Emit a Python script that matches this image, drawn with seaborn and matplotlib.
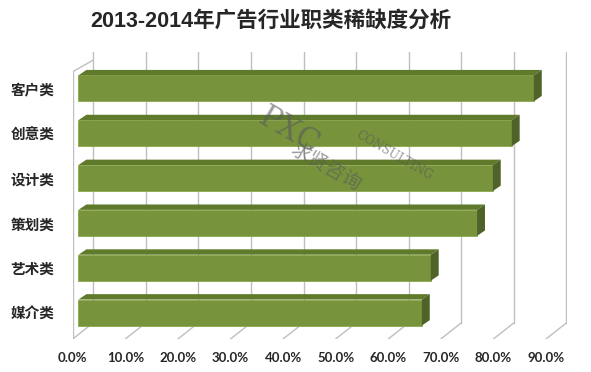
import matplotlib
matplotlib.use("Agg")
import matplotlib.pyplot as plt
import seaborn as sns
import pandas as pd
from matplotlib.patches import Polygon

categories = ["客户类", "创意类", "设计类", "策划类", "艺术类", "媒介类"]
values = [86.6, 82.4, 78.8, 75.8, 67.0, 65.3]
ticks = [0, 10, 20, 30, 40, 50, 60, 70, 80, 90]
tick_labels = ["%.1f%%" % t for t in ticks]
title = "2013-2014年广告行业职类稀缺度分析"

sns.set_style("white")
plt.rcParams["font.family"] = ["Noto Sans CJK SC", "DejaVu Sans"]
plt.rcParams["axes.unicode_minus"] = False

df = pd.DataFrame({"类别": categories, "比例": values})

fig = plt.figure(figsize=(5.91, 3.72), dpi=100)
ax = fig.add_axes([72.6 / 591, 1 - 339 / 372, (567 - 72.6) / 591, (339 - 52) / 372])

sns.barplot(data=df, x="比例", y="类别", order=categories, color="#77933C",
            width=0.58, saturation=1, ax=ax, zorder=3, edgecolor="#8aa84e", linewidth=0.6)

# 3D 效果的偏移量
fo, bo = -1.1, 2.8          # 前/后 网格线相对柱子零点的偏移
y_front, y_back = 5.59, 5.23
y_top = -0.81
dx, dy = 1.5, -0.12         # 柱子厚度

grid_c = "#bfbfbf"
for t in ticks:
    ax.plot([t + bo, t + bo], [y_top, y_back], color=grid_c, lw=1, zorder=1)
    ax.plot([t + fo, t + bo], [y_front, y_back], color=grid_c, lw=1, zorder=1)
# 左侧墙
ax.plot([fo, fo], [-0.37, y_front], color=grid_c, lw=1, zorder=1)
ax.plot([fo, bo], [-0.37, -0.63], color=grid_c, lw=1, zorder=1)

for p in ax.patches:
    x0, x1 = p.get_x(), p.get_x() + p.get_width()
    yt, yb = p.get_y(), p.get_y() + p.get_height()
    top = Polygon([(x0, yt), (x0 + dx, yt + dy), (x1 + dx, yt + dy), (x1, yt)],
                  closed=True, facecolor="#5E7A2A", edgecolor="none", zorder=3)
    side = Polygon([(x1, yt), (x1 + dx, yt + dy), (x1 + dx, yb + dy), (x1, yb)],
                   closed=True, facecolor="#4F6228", edgecolor="none", zorder=3)
    ax.add_patch(top)
    ax.add_patch(side)

ax.set_xlim(-1.12, 92.9)
ax.set_ylim(y_front, y_top)
ax.set_xticks([t + fo for t in ticks])
ax.set_xticklabels(tick_labels, fontsize=9.5, fontweight="bold", family=["Lato", "DejaVu Sans"])
ax.set_yticks(range(len(categories)))
ax.set_yticklabels(categories, fontsize=10.5, fontweight="bold")
ax.tick_params(axis="x", length=0, pad=9)
ax.tick_params(axis="y", length=0, pad=13)
ax.set_xlabel("")
ax.set_ylabel("")
for s in ax.spines.values():
    s.set_visible(False)

fig.text(271 / 591, 1 - 21 / 372, title, ha="center", va="center",
         fontsize=15.5, fontweight="bold", family=["Liberation Sans", "Noto Sans CJK SC"])

# 水印
wm = dict(color="#5a5a5a", alpha=0.6, zorder=5, ha="center", va="center")
ax.text(40, 0.95, "PXC", fontsize=22, rotation=-30, family="DejaVu Serif", **wm)
ax.text(60, 1.5, "CONSULTING", fontsize=8.5, rotation=-30, family="DejaVu Serif", **wm)
ax.text(47, 1.75, "求贤咨询", fontsize=14, rotation=-30, **wm)

fig.savefig("out.png", dpi=100)
